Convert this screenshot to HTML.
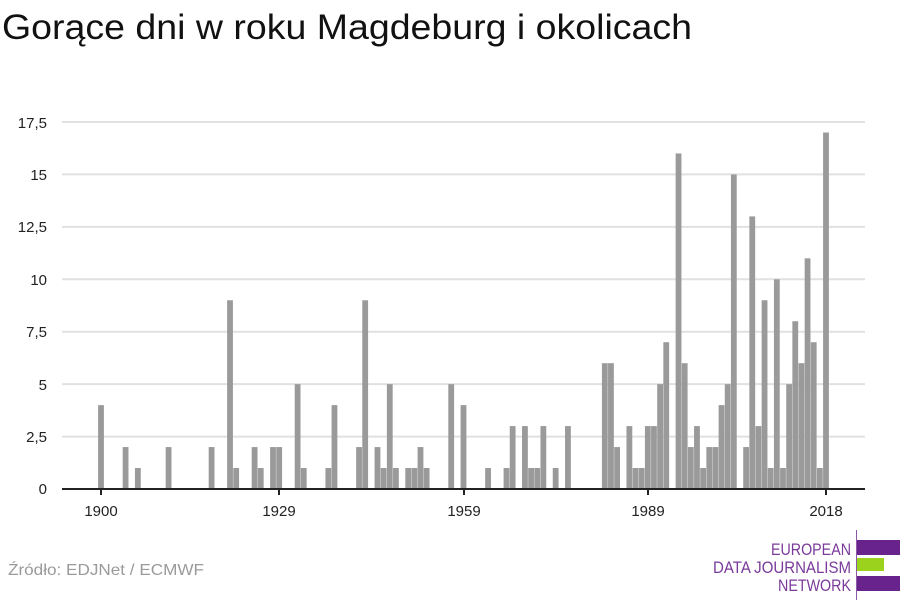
<!DOCTYPE html>
<html><head><meta charset="utf-8"><style>
html,body{margin:0;padding:0;background:#fff;}
svg{display:block;font-family:"Liberation Sans",sans-serif;}
</style></head><body>
<svg id="s" width="900" height="600" viewBox="0 0 900 600" xmlns="http://www.w3.org/2000/svg">
<text x="2" y="39" font-size="35" fill="#111" textLength="690" lengthAdjust="spacingAndGlyphs">Gorące dni w roku Magdeburg i okolicach</text>
<g stroke="#e1e1e1" stroke-width="2">
<line x1="62" x2="865" y1="122" y2="122"/>
<line x1="62" x2="865" y1="174.4" y2="174.4"/>
<line x1="62" x2="865" y1="226.9" y2="226.9"/>
<line x1="62" x2="865" y1="279.3" y2="279.3"/>
<line x1="62" x2="865" y1="331.7" y2="331.7"/>
<line x1="62" x2="865" y1="384.1" y2="384.1"/>
<line x1="62" x2="865" y1="436.6" y2="436.6"/>
</g>
<g font-size="15" fill="#222" text-anchor="end">
<text x="47" y="128">17,5</text>
<text x="47" y="180">15</text>
<text x="47" y="232">12,5</text>
<text x="47" y="285">10</text>
<text x="47" y="337">7,5</text>
<text x="47" y="390">5</text>
<text x="47" y="442">2,5</text>
<text x="47" y="494">0</text>
</g>
<g id="bars" fill="#9a9a9a"></g>
<line x1="62" x2="865" y1="489" y2="489" stroke="#222" stroke-width="2"/>
<g stroke="#222" stroke-width="2">
<line x1="101" x2="101" y1="489" y2="495"/>
<line x1="279" x2="279" y1="489" y2="495"/>
<line x1="464" x2="464" y1="489" y2="495"/>
<line x1="648" x2="648" y1="489" y2="495"/>
<line x1="826" x2="826" y1="489" y2="495"/>
</g>
<g font-size="15" fill="#222" text-anchor="middle">
<text x="101" y="516">1900</text>
<text x="279" y="516">1929</text>
<text x="464" y="516">1959</text>
<text x="648" y="516">1989</text>
<text x="826" y="516">2018</text>
</g>
<text x="8" y="575" font-size="16" fill="#9a9a9a" textLength="196" lengthAdjust="spacingAndGlyphs">Źródło: EDJNet / ECMWF</text>
<line x1="856.5" x2="856.5" y1="530" y2="600" stroke="#8a5aa8" stroke-width="1"/>
<rect x="857" y="540" width="43" height="15" fill="#68238c"/>
<rect x="857" y="558" width="27" height="13" fill="#9ad21e"/>
<rect x="857" y="576" width="43" height="15" fill="#68238c"/>
<g font-size="17" fill="#7a3a9a" text-anchor="end">
<text x="851" y="555" textLength="80" lengthAdjust="spacingAndGlyphs">EUROPEAN</text>
<text x="851" y="573" textLength="138" lengthAdjust="spacingAndGlyphs">DATA JOURNALISM</text>
<text x="851" y="591" textLength="73" lengthAdjust="spacingAndGlyphs">NETWORK</text>
</g>
</svg>
<script>
var d={1900:4,1904:2,1906:1,1911:2,1918:2,1921:9,1922:1,1925:2,1926:1,1928:2,1929:2,1932:5,1933:1,1937:1,1938:4,1942:2,1943:9,1945:2,1946:1,1947:5,1948:1,1950:1,1951:1,1952:2,1953:1,1957:5,1959:4,1963:1,1966:1,1967:3,1969:3,1970:1,1971:1,1972:3,1974:1,1976:3,1982:6,1983:6,1984:2,1986:3,1987:1,1988:1,1989:3,1990:3,1991:5,1992:7,1994:16,1995:6,1996:2,1997:3,1998:1,1999:2,2000:2,2001:4,2002:5,2003:15,2005:2,2006:13,2007:3,2008:9,2009:1,2010:10,2011:1,2012:5,2013:8,2014:6,2015:11,2016:7,2017:1,2018:17};
var g=document.getElementById('bars'),h='';
for(var y in d){var cx=101+(y-1900)*6.144,v=d[y]*20.97;
h+='<rect x="'+(cx-2.9).toFixed(2)+'" y="'+(489-v).toFixed(2)+'" width="5.8" height="'+v.toFixed(2)+'"/>';}
g.innerHTML=h;
</script>
</body></html>
